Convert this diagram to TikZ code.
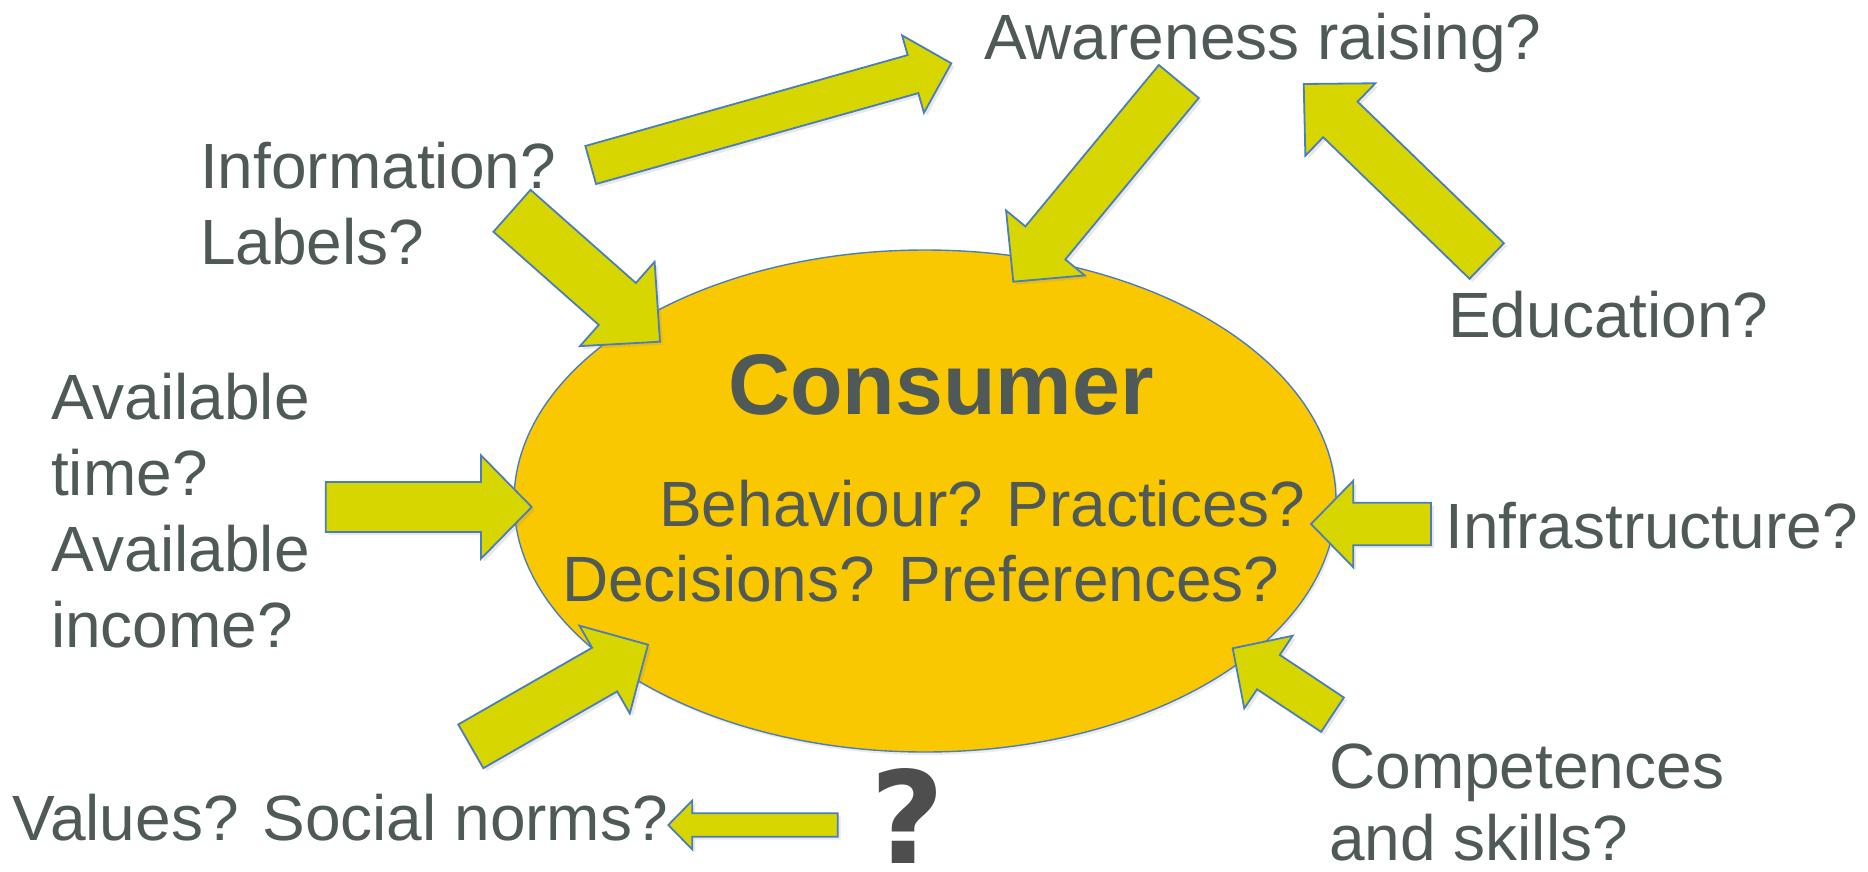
\documentclass[tikz,border=0pt]{standalone}
\usepackage{fontspec}
\setmainfont{Liberation Sans}
\newfontfamily\qfont{DejaVu Sans}
\usetikzlibrary{calc,shadows,shapes.geometric}
\definecolor{txtgray}{HTML}{4F5A58}
\definecolor{arrfill}{HTML}{D8D600}
\definecolor{arrline}{HTML}{4A7EBB}
\definecolor{ellfill}{HTML}{F9C800}
\definecolor{qgray}{HTML}{4E4E4E}
\tikzset{
  lbl/.style={inner sep=0pt, anchor=base west, text=txtgray, font=\fontsize{64}{76}\selectfont},
  arrowbox/.style={fill=arrfill, draw=arrline, line width=1.8pt, line join=miter,
    drop shadow={opacity=0.18, shadow xshift=3pt, shadow yshift=-3pt}},
  qmark/.style={inner sep=0pt, anchor=base, font=\qfont\bfseries\fontsize{128}{136}\selectfont},
}
% #1 name, #2 tail, #3 tip, #4 shaft half width, #5 head half width, #6 head length
\newcommand\blockarr[6]{%
  \coordinate (#1-t) at #2;
  \coordinate (#1-p) at #3;
  \coordinate (#1-h) at ($(#1-p)!#6pt!(#1-t)$);
  \path[arrowbox]
    ($(#1-t)!#4pt!90:(#1-p)$) -- ($(#1-h)!#4pt!90:(#1-p)$) --
    ($(#1-h)!#5pt!90:(#1-p)$) -- (#1-p) --
    ($(#1-h)!#5pt!-90:(#1-p)$) -- ($(#1-h)!#4pt!-90:(#1-p)$) --
    ($(#1-t)!#4pt!-90:(#1-p)$) -- cycle;
}
\begin{document}
\begin{tikzpicture}[x=1pt,y=-1pt]
\useasboundingbox (0,0) rectangle (1868,872);

% central ellipse
\node[ellipse, draw=arrline, line width=1.4pt, fill=ellfill, minimum width=822pt,
      minimum height=502pt, inner sep=0pt,
      drop shadow={opacity=0.15, shadow xshift=2pt, shadow yshift=-3pt}] (consumer) at (925,501) {};

% texts
\node[inner sep=0pt, anchor=base west, text=txtgray, font=\bfseries\fontsize{86}{100}\selectfont] (title) at (728,414) {Consumer};
\node[lbl] (beh) at (659,526.5) {Behaviour? Practices?};
\node[lbl] (dec) at (562,601.6) {Decisions? Preferences?};

\node[lbl] (aware) at (984,59.6) {Awareness raising?};
\node[lbl] (info1) at (200,188.2) {Information?};
\node[lbl] (info2) at (200,264.5) {Labels?};
\node[lbl] (edu) at (1448,337) {Education?};
\node[lbl] (av1) at (51,419.3) {Available};
\node[lbl] (av2) at (51,495) {time?};
\node[lbl] (av3) at (51,571.7) {Available};
\node[lbl] (av4) at (51,647.3) {income?};
\node[lbl] (infra) at (1445,548) {Infrastructure?};
\node[lbl] (comp1) at (1329,788.6) {Competences};
\node[lbl] (comp2) at (1329,860) {and skills?};
\node[lbl] (values) at (12,840) {Values? Social norms?};

% block arrows
\blockarr{a1}{(590.7,165)}{(951.3,63.3)}{19.75}{40.25}{39.8}
\blockarr{a2}{(512,210.8)}{(660,341.7)}{28}{56.3}{57}
\blockarr{a3}{(1178.8,81.5)}{(1013.3,281.7)}{25.9}{51}{50.3}
\blockarr{a4}{(1486.7,261)}{(1303.7,84)}{24.75}{50.35}{51}
\blockarr{a5}{(325.7,507)}{(531.7,507)}{25}{51.7}{50.7}
\blockarr{a6}{(1431,524)}{(1311,524)}{21.2}{43.3}{42.3}
\blockarr{a7}{(470.8,746.3)}{(648,644.7)}{25.2}{50.6}{50}
\blockarr{a8}{(1332.5,714.7)}{(1232.7,648.3)}{20.6}{43.6}{42.9}
\blockarr{a9}{(837.7,825)}{(668.3,825)}{11.7}{24.5}{24}

% question mark
\node[qmark, text=qgray] (qmark) at (908,863) {?};
\end{tikzpicture}
\end{document}
